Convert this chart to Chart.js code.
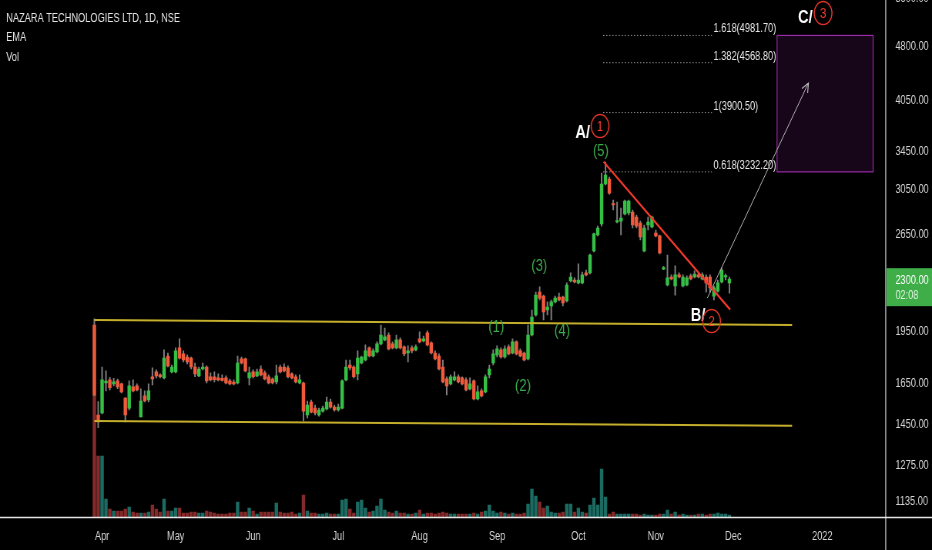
<!DOCTYPE html>
<html>
<head>
<meta charset="utf-8">
<script src="https://cdn.jsdelivr.net/npm/chart.js"></script>
<style>
html,body{margin:0;padding:0;background:#000;overflow:hidden;width:932px;height:550px;}
#wrap{width:1210px;height:550px;transform:scaleX(0.77025);transform-origin:0 0;}
</style>
</head>
<body>
<div id="wrap"><canvas id="c" width="1210" height="550"></canvas></div>
<script>
// ---- data (bar index 0 = listing day, 30 Mar 2021) ----
const opens = [1989,1495,1505,1655,1671,1650,1666,1650,1578,1528,1635,1640,1486,1589,1568,1688,1714,1698,1682,1803,
1714,1714,1850,1815,1797,1791,1741,1693,1730,1741,1688,1687,1682,1680,1682,1666,1660,1655,1786,1786,
1682,1714,1693,1730,1709,1688,1676,1660,1741,1741,1736,1703,1688,1655,1655,1495,1558,1528,1495,1514,
1524,1558,1533,1519,1528,1671,1752,1741,1703,1763,1780,1850,1803,1826,1873,1897,1927,1873,1850,1897,
1856,1820,1850,1838,1903,1891,1940,1879,1820,1803,1741,1677,1650,1671,1688,1682,1671,1624,1666,1573,
1614,1609,1698,1763,1809,1838,1797,1856,1820,1885,1832,1820,1786,1927,2053,2208,2180,2086,2113,2140,
2173,2173,2146,2287,2294,2273,2273,2346,2346,2515,2646,2740,3110,3160,2919,2757,2765,2829,2837,2846,
2801,2748,2515,2731,2714,2663,2638,2375,2258,2316,2251,2331,2251,2258,2324,2316,2331,2302,2316,2316,
2180,2215,2280,2316,2273];
const highs = [2028,1560,1741,1720,1685,1680,1676,1655,1580,1666,1671,1650,1624,1614,1650,1736,1725,1703,1838,1820,
1752,1850,1903,1832,1809,1797,1763,1741,1763,1747,1709,1714,1703,1698,1693,1676,1671,1803,1797,1791,
1741,1725,1730,1747,1720,1698,1682,1752,1752,1758,1747,1709,1698,1698,1660,1563,1568,1543,1528,1538,
1583,1573,1543,1548,1671,1780,1780,1747,1832,1803,1867,1856,1844,1885,1989,1970,1940,1885,1927,1909,
1862,1862,1862,1867,1946,1921,1952,1885,1832,1815,1780,1688,1698,1714,1698,1688,1682,1682,1671,1640,
1624,1698,1752,1838,1862,1850,1862,1867,1903,1891,1844,1826,1989,2086,2208,2244,2187,2140,2153,2180,
2201,2180,2273,2346,2309,2414,2353,2368,2491,2663,2722,3220,3335,3180,2956,2937,2882,2956,2956,2864,
2819,2765,2731,2801,2810,2688,2646,2395,2483,2331,2399,2346,2331,2324,2338,2361,2346,2346,2331,2331,
2251,2294,2384,2338,2316];
const lows = [1589,1436,1500,1614,1619,1640,1625,1604,1463,1519,1609,1614,1486,1558,1558,1645,1682,1682,1677,1741,
1709,1709,1786,1769,1758,1730,1688,1688,1725,1655,1666,1660,1666,1664,1650,1645,1645,1650,1758,1714,
1645,1682,1688,1693,1671,1650,1650,1650,1709,1714,1682,1677,1655,1650,1467,1481,1505,1495,1490,1509,
1519,1528,1514,1514,1524,1666,1725,1682,1671,1758,1775,1797,1797,1820,1867,1891,1838,1844,1844,1844,
1803,1769,1820,1832,1879,1885,1862,1815,1780,1725,1655,1594,1645,1666,1655,1645,1614,1619,1568,1568,
1583,1604,1682,1752,1797,1791,1791,1809,1815,1809,1797,1775,1780,1921,2046,2153,2021,2053,2021,2133,
2146,2113,2140,2280,2273,2265,2265,2324,2338,2507,2638,2722,3100,3012,2864,2750,2646,2819,2819,2705,
2705,2604,2507,2688,2705,2629,2491,2370,2251,2294,2187,2309,2244,2251,2294,2309,2309,2294,2208,2208,
2153,2208,2273,2294,2201];
const closes = [1594,1463,1671,1665,1630,1661,1635,1609,1495,1640,1614,1619,1563,1563,1614,1677,1693,1688,1791,1747,
1741,1832,1791,1780,1769,1741,1703,1730,1741,1666,1671,1672,1671,1668,1655,1650,1650,1763,1763,1720,
1709,1688,1714,1698,1676,1655,1655,1693,1714,1720,1688,1682,1660,1671,1514,1543,1509,1505,1519,1528,
1558,1533,1519,1533,1666,1741,1736,1688,1791,1797,1832,1803,1832,1873,1927,1915,1844,1850,1897,1850,
1815,1832,1832,1856,1885,1903,1867,1820,1786,1730,1660,1640,1688,1688,1660,1650,1619,1650,1573,1609,
1589,1688,1730,1815,1844,1797,1844,1815,1885,1815,1803,1780,1927,2040,2187,2166,2073,2106,2140,2166,
2153,2133,2258,2316,2280,2294,2331,2331,2483,2655,2705,3110,3200,3022,2910,2770,2792,2947,2947,2731,
2722,2629,2705,2757,2801,2638,2499,2385,2309,2302,2331,2316,2316,2309,2302,2338,2316,2331,2273,2237,
2237,2273,2368,2324,2300];
const volumes = [6100,3050,3050,900,400,300,300,300,400,500,250,200,200,200,250,600,400,250,900,300,
300,450,450,200,200,250,250,200,200,300,250,200,150,150,150,200,200,750,250,250,
450,300,150,250,250,250,250,700,250,200,200,250,150,200,1100,300,200,200,150,150,
200,150,150,150,850,900,400,200,750,850,450,250,300,550,900,350,250,200,300,200,
200,150,150,200,350,150,200,200,150,200,250,200,150,150,150,150,150,150,200,150,
250,300,600,300,200,250,200,150,200,150,150,200,650,1400,1050,750,450,550,250,200,
200,250,650,650,250,450,250,200,600,950,600,2400,1000,150,250,150,150,150,150,150,
150,100,150,100,100,100,150,150,350,150,250,100,150,100,100,100,150,150,100,150,
150,200,150,150,100];

const monthTickIdx = [2,21,41,63,84,104,125,145,165,188];
const monthTickLabels = ['Apr','May','Jun','Jul','Aug','Sep','Oct','Nov','Dec','2022'];
const priceTicks = [1135,1275,1450,1650,1950,2650,3050,3450,4050,4800,5600];

const fibRatios = ['1.618','1.382','1','0.618'];
const fibPrices = [4981.7,4568.8,3900.5,3232.2];
const fibSpan = [131.4,159.5];

const channelUpper = [[0,2021],[180.2,1989]];
const channelLower = [[0,1467],[180.2,1445]];
const trendLine = [[131.5,3338],[164.2,2088]];
const projArrow = [[158.3,2166],[184.4,4283]];
const targetBox = [176.3,201.1,3232.2,4981.7];

const waveSubLabels = [['(1)',103.8,1977],['(2)',110.7,1639],['(3)',114.9,2398],['(4)',120.8,1951],['(5)',130.8,3453]];
const waveMainLabels = [['A/',126.1,3655],['B/',155.9,2047],['C/',183.6,5271]];
const waveCircles = [['1',130.6,3737],['2',159.4,2014],['3',188.2,5347]];

const headerLines = ['NAZARA TECHNOLOGIES LTD, 1D, NSE','EMA','Vol'];
const countdown = '02:08';

// ---- styles ----
const FONT = '"Liberation Sans", Arial, sans-serif';
const UP = '#35bf45', DOWN = '#ef5a3c';
const VUP = '#1c6b63', VDOWN = '#842a2a';

const pts = arr => arr.map(p => ({x:p[0], y:p[1]}));
const lineDs = (data, color, width, dash) => ({
  type:'line', data:pts(data), yAxisID:'y', borderColor:color, borderWidth:width,
  borderDash:dash||[], pointRadius:0, fill:false, tension:0, order:1
});

const datasets = [
  {type:'bar', yAxisID:'yv', order:10, grouped:false, barThickness:3.8,
   data: volumes.map((v,i)=>({x:i,y:v})),
   backgroundColor: volumes.map((v,i)=> closes[i]>=opens[i]?VUP:VDOWN)},
  {type:'bar', yAxisID:'y', order:6, grouped:false, barThickness:1.3,
   data: highs.map((h,i)=>({x:i,y:[lows[i],h]})), backgroundColor:'#7f7f7f'},
  {type:'bar', yAxisID:'y', order:5, grouped:false, barThickness:3.8, minBarLength:1.5,
   data: opens.map((o,i)=>({x:i,y:[o,closes[i]]})),
   backgroundColor: opens.map((o,i)=> closes[i]>=o?UP:DOWN)},
  lineDs(channelUpper,'#c4ae2c',2),
  lineDs(channelLower,'#c4ae2c',2),
  lineDs(trendLine,'#f2392c',2.2),
  lineDs(projArrow,'#bdbdbd',1),
  ...fibPrices.map(p => lineDs([[fibSpan[0],p],[fibSpan[1],p]],'#9a9a9a',1,[1.5,2.5]))
];

const overlay = {
  id:'overlay',
  beforeDatasetsDraw(chart){
    const ctx = chart.ctx, xs = chart.scales.x, ys = chart.scales.y;
    const x0 = xs.getPixelForValue(targetBox[0]), x1 = xs.getPixelForValue(targetBox[1]);
    const y0 = ys.getPixelForValue(targetBox[3]), y1 = ys.getPixelForValue(targetBox[2]);
    ctx.save();
    ctx.fillStyle = 'rgba(156,39,176,0.15)';
    ctx.fillRect(x0,y0,x1-x0,y1-y0);
    ctx.strokeStyle = '#9a2aa6'; ctx.lineWidth = 1.2;
    ctx.strokeRect(x0,y0,x1-x0,y1-y0);
    ctx.restore();
  },
  afterDatasetsDraw(chart){
    const ctx = chart.ctx, xs = chart.scales.x, ys = chart.scales.y;
    const px = v => xs.getPixelForValue(v), py = v => ys.getPixelForValue(v);
    ctx.save();
    const ax0 = px(projArrow[0][0]), ay0 = py(projArrow[0][1]);
    const ax1 = px(projArrow[1][0]), ay1 = py(projArrow[1][1]);
    const ang = Math.atan2(ay1-ay0, ax1-ax0);
    ctx.strokeStyle = '#bdbdbd'; ctx.lineWidth = 1.2;
    ctx.beginPath();
    ctx.moveTo(ax1 - 10*Math.cos(ang-0.45), ay1 - 10*Math.sin(ang-0.45));
    ctx.lineTo(ax1, ay1);
    ctx.lineTo(ax1 - 10*Math.cos(ang+0.45), ay1 - 10*Math.sin(ang+0.45));
    ctx.stroke();
    ctx.fillStyle = '#e8e8e8'; ctx.font = '12px '+FONT;
    ctx.textAlign = 'left'; ctx.textBaseline = 'alphabetic';
    fibPrices.forEach((p,k)=>{
      ctx.fillText(fibRatios[k]+'('+p.toFixed(2)+')', px(fibSpan[1])+2, py(p)-3);
    });
    ctx.textAlign = 'center'; ctx.textBaseline = 'middle';
    ctx.fillStyle = '#3aa94b'; ctx.font = '17px '+FONT;
    waveSubLabels.forEach(l => ctx.fillText(l[0], px(l[1]), py(l[2])));
    ctx.fillStyle = '#ffffff'; ctx.font = 'bold 19px '+FONT;
    waveMainLabels.forEach(l => ctx.fillText(l[0], px(l[1]), py(l[2])));
    waveCircles.forEach(l => {
      const cx = px(l[1]), cy = py(l[2]);
      ctx.strokeStyle = '#e2332a'; ctx.lineWidth = 1.5;
      ctx.beginPath(); ctx.arc(cx, cy, 11.5, 0, Math.PI*2); ctx.stroke();
      ctx.fillStyle = '#f03a2e'; ctx.font = '15px '+FONT;
      ctx.fillText(l[0], cx, cy+1);
    });
    ctx.restore();
  },
  afterDraw(chart){
    const ctx = chart.ctx, ca = chart.chartArea, ys = chart.scales.y;
    const W = chart.width, H = chart.height;
    ctx.save();
    ctx.strokeStyle = '#bfbfbf'; ctx.lineWidth = 1.3;
    ctx.beginPath(); ctx.moveTo(ca.right+0.5, 0); ctx.lineTo(ca.right+0.5, H); ctx.stroke();
    ctx.strokeStyle = '#e6e6e6'; ctx.lineWidth = 1.5;
    ctx.beginPath(); ctx.moveTo(0, ca.bottom+0.5); ctx.lineTo(W, ca.bottom+0.5); ctx.stroke();
    const last = closes[closes.length-1];
    const yc = ys.getPixelForValue(last);
    ctx.fillStyle = '#3fae49';
    ctx.fillRect(ca.right+1.5, yc-11, W-ca.right-1.5, 38);
    ctx.fillStyle = '#ffffff'; ctx.font = '12px '+FONT;
    ctx.textAlign = 'left'; ctx.textBaseline = 'middle';
    ctx.fillText(last.toFixed(2), ca.right+13, yc+2);
    ctx.fillStyle = '#dff3e0';
    ctx.fillText(countdown, ca.right+13, yc+17);
    ctx.fillStyle = '#e6e6e6'; ctx.font = '12px '+FONT;
    [19,38,58].forEach((y,k)=> ctx.fillText(headerLines[k], 8, y));
    ctx.restore();
  }
};

new Chart(document.getElementById('c'), {
  type:'bar',
  data:{datasets},
  plugins:[overlay],
  options:{
    responsive:false, animation:false,
    layout:{padding:0},
    plugins:{legend:{display:false}, tooltip:{enabled:false}},
    scales:{
      x:{type:'linear', min:-24.36, max:204.27, offset:false,
         grid:{display:false, drawTicks:false}, border:{display:false},
         afterBuildTicks: s => { s.ticks = monthTickIdx.map(v=>({value:v})); },
         afterFit: s => { s.height = 33; s.paddingLeft = 0; s.paddingRight = 0; },
         ticks:{autoSkip:false, maxRotation:0, minRotation:0, padding:12, color:'#d6d6d6',
                font:{size:12, family:FONT},
                callback: v => { const k = monthTickIdx.indexOf(v); return k>=0 ? monthTickLabels[k] : ''; }}},
      y:{type:'logarithmic', position:'right', min:1082, max:5574,
         grid:{display:false, drawTicks:false}, border:{display:false},
         afterBuildTicks: s => { s.ticks = priceTicks.map(v=>({value:v})); },
         afterFit: s => { s.width = 60.6; s.paddingTop = 0; s.paddingBottom = 0; },
         ticks:{padding:13, color:'#d6d6d6', font:{size:12, family:FONT},
                callback: v => Number(v).toFixed(2)}},
      yv:{type:'linear', display:false, min:0, max:25850}
    }
  }
});
</script>
</body>
</html>
